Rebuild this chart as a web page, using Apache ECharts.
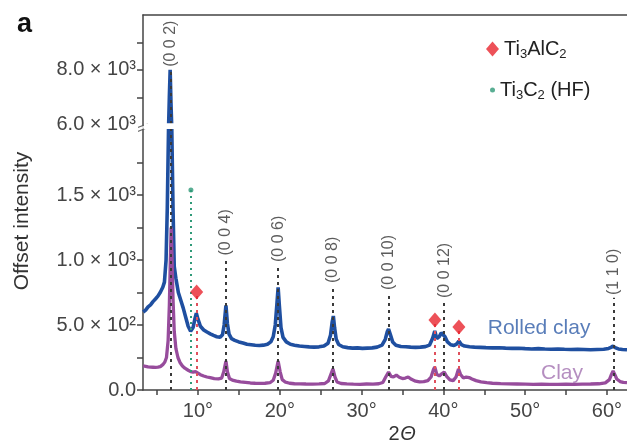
<!DOCTYPE html>
<html><head><meta charset="utf-8">
<script src="https://cdn.jsdelivr.net/npm/echarts@6/dist/echarts.min.js"></script>
<style>html,body{margin:0;padding:0;background:#fff}#c{width:627px;height:441px}</style>
</head><body><div id="c"></div>
<script>
// ---- data (2θ in degrees, offset intensity in counts) ----
const rolledClay = [[3.3,600],[3.6,615],[3.9,640],[4.2,655],[4.5,680],[4.8,700],[5.1,722],[5.4,752],[5.7,790],[5.9,830],[6.1,1000],[6.25,1400],[6.4,2600],[6.5,7000],[6.6,8000],[6.7,6800],[6.8,2500],[6.95,1400],[7.1,950],[7.3,860],[7.6,750],[7.9,690],[8.2,630],[8.5,560],[8.8,490],[9.1,452],[9.4,480],[9.6,540],[9.8,590],[10.0,545],[10.3,490],[10.7,462],[11.1,446],[11.5,432],[11.9,420],[12.3,410],[12.7,405],[13.0,425],[13.2,500],[13.42,650],[13.6,510],[13.8,430],[14.1,395],[14.5,382],[15.0,370],[15.5,362],[16.0,352],[16.5,348],[17.0,344],[17.5,342],[18.0,345],[18.5,352],[18.9,370],[19.2,410],[19.45,500],[19.65,660],[19.8,790],[19.95,650],[20.15,480],[20.4,405],[20.8,370],[21.3,352],[21.8,345],[22.4,338],[23.0,335],[23.6,332],[24.2,330],[24.8,332],[25.4,338],[25.9,360],[26.2,420],[26.4,520],[26.55,569],[26.7,480],[26.9,390],[27.2,350],[27.7,333],[28.3,326],[28.9,322],[29.5,324],[30.1,320],[30.7,322],[31.3,324],[31.9,330],[32.5,345],[32.9,390],[33.15,450],[33.3,469],[33.5,430],[33.8,370],[34.2,345],[34.8,335],[35.4,333],[36.0,330],[36.6,328],[37.2,330],[37.8,334],[38.3,345],[38.7,400],[38.95,454],[39.2,395],[39.5,410],[39.75,440],[39.95,446],[40.2,410],[40.5,370],[40.9,348],[41.3,342],[41.65,355],[41.9,377],[42.2,350],[42.6,338],[43.2,333],[43.8,330],[44.5,328],[45.2,326],[46,324],[46.8,325],[47.6,322],[48.4,320],[49.2,321],[50,318],[50.8,316],[51.6,318],[52.4,315],[53.2,314],[54,316],[54.8,313],[55.6,312],[56.4,314],[57.2,312],[58,310],[58.8,312],[59.6,314],[60.2,320],[60.5,328],[60.75,338],[61.0,326],[61.4,316],[61.9,312],[62.45,310]];
const clay = [[3.3,185],[3.6,182],[3.9,178],[4.2,176],[4.5,175],[4.8,174],[5.1,176],[5.4,180],[5.7,195],[5.95,215],[6.15,250],[6.35,380],[6.5,650],[6.62,1000],[6.72,1250],[6.82,1050],[6.95,700],[7.1,450],[7.3,320],[7.55,250],[7.8,212],[8.1,185],[8.4,168],[8.8,152],[9.1,142],[9.4,138],[9.7,142],[9.95,132],[10.3,118],[10.7,108],[11.1,100],[11.5,95],[12.0,88],[12.5,86],[12.9,92],[13.15,140],[13.42,223],[13.6,140],[13.85,88],[14.2,76],[14.7,68],[15.2,62],[15.8,58],[16.4,54],[17.0,52],[17.6,51],[18.2,52],[18.8,56],[19.2,75],[19.5,130],[19.8,223],[20.05,140],[20.3,80],[20.7,60],[21.2,52],[21.8,48],[22.5,47],[23.2,46],[24.0,45],[24.8,47],[25.5,50],[25.95,70],[26.25,120],[26.5,162],[26.75,100],[27.0,62],[27.5,50],[28.2,47],[29.0,45],[29.8,44],[30.6,46],[31.4,45],[32.1,48],[32.6,58],[32.95,100],[33.3,138],[33.6,105],[33.9,100],[34.25,115],[34.6,98],[35.0,88],[35.35,92],[35.7,100],[36.1,82],[36.6,68],[37.1,62],[37.6,64],[38.1,72],[38.5,100],[38.8,160],[38.95,177],[39.2,120],[39.5,108],[39.8,125],[40.1,138],[40.4,105],[40.8,78],[41.2,72],[41.55,100],[41.85,162],[42.1,120],[42.45,92],[42.8,100],[43.15,96],[43.5,85],[44.0,72],[44.6,62],[45.3,56],[46.0,52],[47.0,49],[48.0,47],[49.0,46],[50.0,45],[51.0,44],[52.0,45],[53.0,44],[54.0,43],[55.0,45],[56.0,44],[57.0,45],[58.0,46],[59.0,48],[59.8,55],[60.3,80],[60.55,120],[60.75,146],[60.95,120],[61.2,85],[61.6,65],[62.0,58],[62.45,56]];
const peakPos = [6.62, 13.42, 19.8, 26.5, 33.3, 40.1, 60.77];
const peakNames = ['(0 0 2)', '(0 0 4)', '(0 0 6)', '(0 0 8)', '(0 0 10)', '(0 0 12)', '(1 1 0)'];
const peakLabelAt = [8110, 1035, 985, 823, 769, 708, 731];
const maxPhasePos = [9.84, 38.97, 41.9];
const maxPhaseInt = [754, 538, 485];
const hfPos = [9.14];
const hfInt = [1538];
const curveNames = ['Rolled clay', 'Clay'];
const curveNamePos = [[51.7, 477], [54.5, 133]];
const curveNameColors = ['#2f5ca8', '#a272b0'];
const xTickLabels = [10, 20, 30, 40, 50, 60];
const xTickMarks = [5, 10, 15, 20, 25, 30, 35, 40, 45, 50, 55, 60];
const yTickValues = [0, 500, 1000, 1500, 6000, 8000];
const yTickLabels = ['0.0', '5.0 × 10²', '1.0 × 10³', '1.5 × 10³', '6.0 × 10³', '8.0 × 10³'];
const yTickMarks = [0, 250, 500, 750, 1000, 1250, 1500, 1750, 7000, 8000, 9000];
const axisBreak = [2000, 6000];

// broken-axis transform: lower segment linear, upper segment compressed
function tf(v) {
  if (v <= axisBreak[0]) return v;
  if (v < axisBreak[1]) return axisBreak[0] + (v - axisBreak[0]) / (axisBreak[1] - axisBreak[0]) * 40;
  return axisBreak[0] + 40 + (v - axisBreak[1]) * 0.2115;
}
const FONT = 'Liberation Sans, Arial, Helvetica, sans-serif';
const chart = echarts.init(document.getElementById('c'), null, {renderer: 'canvas'});

const guides = [];
peakPos.forEach((p, i) => guides.push([{coord: [p, 0], lineStyle: {color: '#3a3a3a', type: [3, 4], width: 2}}, {coord: [p, tf(peakLabelAt[i]) - 22]}]));
maxPhasePos.forEach((p, i) => guides.push([{coord: [p, 0], lineStyle: {color: '#e0505c', type: [3, 4], width: 2}}, {coord: [p, tf(maxPhaseInt[i])]}]));
hfPos.forEach((p, i) => guides.push([{coord: [p, 0], lineStyle: {color: '#2f9a78', type: [2, 4], width: 2}}, {coord: [p, tf(hfInt[i])]}]));

const legendRich = {
  n: {fontSize: 20, color: '#222', fontFamily: FONT, lineHeight: 24},
  s: {fontSize: 13, color: '#222', fontFamily: FONT, verticalAlign: 'bottom', lineHeight: 13}
};
function legendFmt(name) {
  if (name === 'Ti3AlC2') return '{n|Ti}{s|3}{n|AlC}{s|2}';
  return '{n|Ti}{s|3}{n|C}{s|2}{n| (HF)}';
}

chart.setOption({
  animation: false,
  grid: {left: 143, right: 0, top: 15, bottom: 51, containLabel: false},
  legend: [
    {data: [{name: 'Ti3AlC2', icon: 'diamond'}], left: 481, top: 34, itemWidth: 13, itemHeight: 15, itemGap: 0, formatter: legendFmt, textStyle: {rich: legendRich}},
    {data: [{name: 'Ti3C2 (HF)', icon: 'circle'}], left: 485, top: 75, itemWidth: 5, itemHeight: 5, formatter: legendFmt, textStyle: {rich: legendRich}}
  ],
  xAxis: [{
    type: 'value', min: 3.28, max: 62.45, position: 'bottom',
    axisLine: {lineStyle: {color: '#444', width: 1.5}},
    axisTick: {inside: false, length: 5, lineStyle: {color: '#444', width: 1.5}, customValues: xTickMarks},
    axisLabel: {customValues: xTickLabels, formatter: v => v + '°', fontSize: 20, color: '#444', fontFamily: FONT, margin: 11},
    splitLine: {show: false}
  }, {
    type: 'value', min: 3.28, max: 62.45, position: 'top',
    axisLine: {lineStyle: {color: '#444', width: 1.5}},
    axisTick: {show: false}, axisLabel: {show: false}, splitLine: {show: false}
  }],
  yAxis: {
    type: 'value', min: 0, max: 2885,
    axisLine: {show: true, lineStyle: {color: '#444', width: 1.5}},
    axisTick: {show: true, inside: false, length: 6, lineStyle: {color: '#444', width: 1.5}, customValues: yTickMarks.map(tf)},
    axisLabel: {
      customValues: yTickValues.map(tf), fontSize: 20, color: '#444', fontFamily: FONT, margin: 7,
      formatter: function (val) {
        for (let i = 0; i < yTickValues.length; i++) if (Math.abs(tf(yTickValues[i]) - val) < 1e-6) return yTickLabels[i];
        return '';
      }
    },
    splitLine: {show: false}
  },
  graphic: [
    {type: 'text', x: 17, y: 25, style: {text: 'a', font: 'bold 27px ' + FONT, fill: '#111', verticalAlign: 'middle'}},
    {type: 'text', x: 22, y: 221, rotation: Math.PI / 2, style: {text: 'Offset intensity', font: '21px ' + FONT, fill: '#333', align: 'center', verticalAlign: 'middle'}},
    {type: 'text', x: 394, y: 434, style: {text: '2', font: '20px ' + FONT, fill: '#333', align: 'center', verticalAlign: 'middle'}},
    {type: 'text', x: 408, y: 434, style: {text: 'Θ', font: 'italic 20px ' + FONT, fill: '#333', align: 'center', verticalAlign: 'middle'}}
  ],
  series: [
    {name: 'Rolled clay', type: 'line', data: rolledClay.map(d => [d[0], tf(d[1])]), showSymbol: false, symbol: 'none', lineStyle: {color: '#1f4fa0', width: 3.6}, z: 2},
    {name: 'Clay', type: 'line', data: clay.map(d => [d[0], tf(d[1])]), showSymbol: false, symbol: 'none', lineStyle: {color: '#974c9c', width: 3.3}, z: 3},
    {name: 'breakBand', type: 'scatter', data: [], z: 4, zlevel: 0, silent: true,
      markArea: {silent: true, z: 10, itemStyle: {color: '#ffffff', opacity: 1}, data: [[{xAxis: 3.4, yAxis: tf(axisBreak[0]) + 8}, {xAxis: 62.45, yAxis: tf(axisBreak[1]) + 12}]]}},
    {name: 'guides', type: 'scatter', data: [], z: 5, silent: true,
      markLine: {silent: true, symbol: ['none', 'none'], label: {show: false}, data: guides}},
    {name: 'Ti3AlC2', type: 'scatter', data: maxPhasePos.map((p, i) => [p, tf(maxPhaseInt[i])]), symbol: 'diamond', symbolSize: [13, 15], itemStyle: {color: '#e8262e'}, z: 6},
    {name: 'Ti3C2 (HF)', type: 'scatter', data: hfPos.map((p, i) => [p, tf(hfInt[i])]), symbol: 'circle', symbolSize: 5, itemStyle: {color: '#2f9a78'}, z: 6},
    {name: 'peakLabels', type: 'scatter', data: peakPos.map((p, i) => [p, tf(peakLabelAt[i])]), symbolSize: 0, z: 7, silent: true,
      label: {show: true, position: [0, 0], rotate: 90, align: 'left', verticalAlign: 'middle', fontSize: 16, color: '#333', fontFamily: FONT,
        formatter: p => peakNames[p.dataIndex]}},
    {name: 'curveNames', type: 'scatter', symbolSize: 0, z: 7, silent: true,
      data: curveNamePos.map((d, i) => ({value: [d[0], tf(d[1])], label: {color: curveNameColors[i]}})),
      label: {show: true, position: [0, 0], align: 'center', verticalAlign: 'middle', fontSize: 21, fontFamily: FONT,
        formatter: p => curveNames[p.dataIndex]}},
    {name: 'breakGap', type: 'scatter', data: [[3.28, (tf(axisBreak[0]) + tf(axisBreak[1])) / 2]], symbol: 'rect', symbolSize: [5, 4], itemStyle: {color: '#fff'}, z: 8, clip: false, silent: true},
    {name: 'breakMark', type: 'scatter', data: [[3.28, (tf(axisBreak[0]) + tf(axisBreak[1])) / 2]], symbol: 'path://M0,5 L10,0 L10,1.6 L0,6.6 Z M0,10 L10,5 L10,6.6 L0,11.6 Z', symbolSize: [10, 9], itemStyle: {color: '#444'}, z: 9, clip: false, silent: true}
  ]
});
</script>
</body></html>
